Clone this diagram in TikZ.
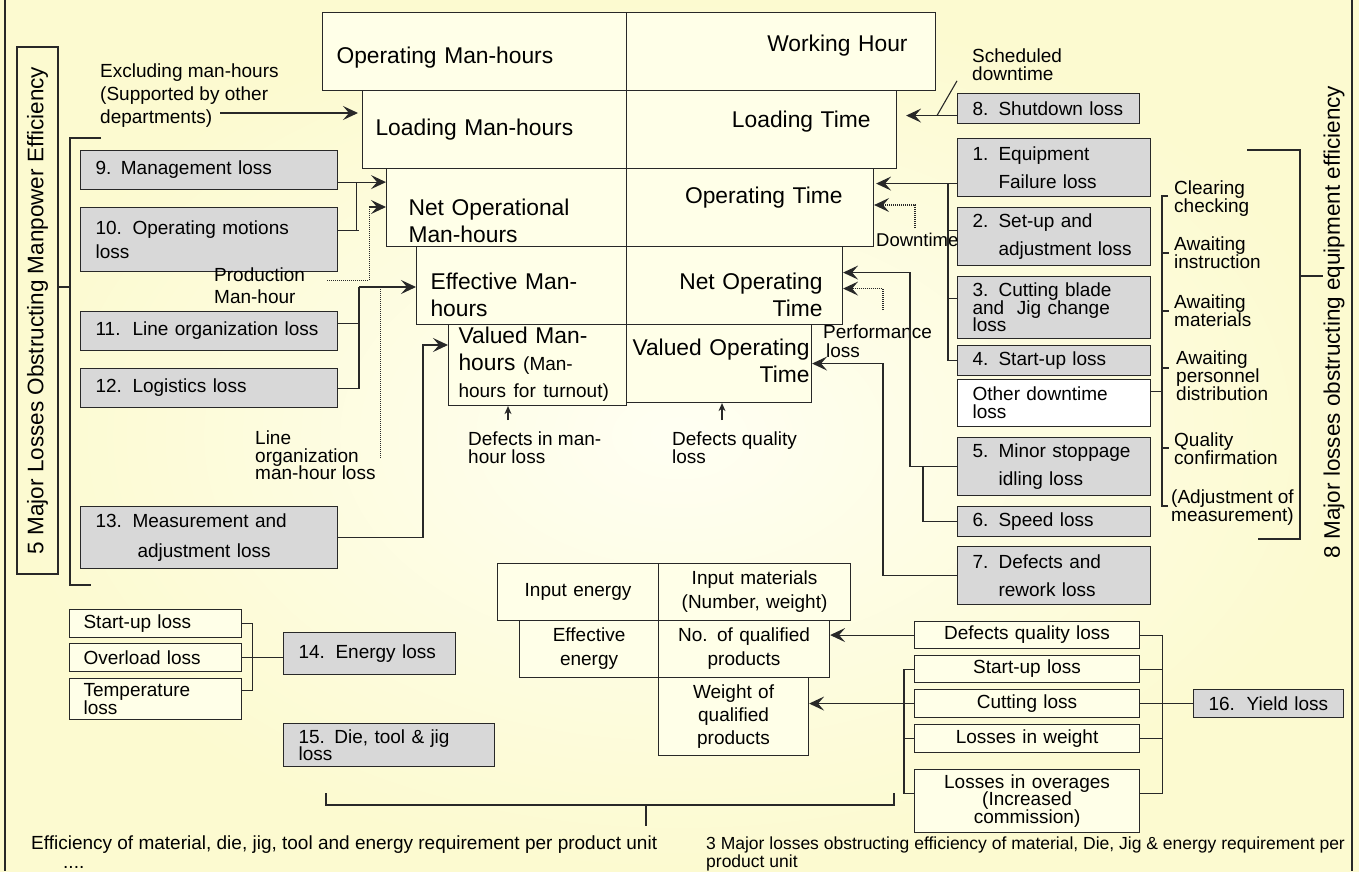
\documentclass[tikz,border=0pt]{standalone}
\usepackage{fontspec}
\setmainfont{Liberation Sans}
\usetikzlibrary{arrows.meta,calc}

\definecolor{bgout}{RGB}{252,250,208}
\definecolor{bgin}{RGB}{255,255,243}
\definecolor{cellyel}{RGB}{255,255,232}
\definecolor{lossgray}{RGB}{216,216,216}
\definecolor{ink}{RGB}{40,40,40}

\newcommand\cellf{\fontsize{22.8}{27}\selectfont}
\newcommand\lfs[1]{\fontsize{19}{#1}\selectfont\lineskiplimit=-40pt\lineskip=0pt\relax}
\newcommand\sidef{\fontsize{22.5}{27}\selectfont}
\newcommand\nudge[2]{\raisebox{#1}[\height][\depth]{#2}}
\newcommand\cellrows[2]{\begin{tabular}{@{}#1@{}}#2\end{tabular}}

\tikzset{
  cell/.style={draw=ink, fill=cellyel, line width=1.1pt, anchor=north west, inner ysep=0pt, font=\cellf},
  loss/.style={draw=ink, fill=lossgray, line width=1.1pt, anchor=north west, inner ysep=0pt, inner xsep=15pt, align=left, font=\lfs{27.5}},
  item/.style={draw=ink, fill=cellyel, line width=1.1pt, anchor=north west, inner ysep=0pt, align=center, font=\lfs{24}},
  lbl/.style={anchor=north west, inner sep=0pt, align=left, font=\lfs{23}},
  wire/.style={draw=ink, line width=1.1pt},
  arr/.style={wire, -{Stealth[length=15pt,width=14pt,inset=6pt]}},
  upar/.style={wire, -{Stealth[length=8pt,width=7pt,inset=2.5pt]}},
  dots/.style={wire, line width=1pt, densely dotted},
}

\begin{document}
\begin{tikzpicture}[x=1pt,y=-1pt]
\useasboundingbox (0,0) rectangle (1359,871);
\shade[inner color=bgin, outer color=bgout] (0,0) rectangle (1359,871);
\draw[wire] (5,0) -- (5,871);
\draw[wire] (1352,0) -- (1352,871);

% man-hours / time table
\node[cell, inner xsep=14pt, text width=276pt, align=left, minimum height=78pt] (omh) at (322,12) {\nudge{-6pt}{Operating Man-hours}};
\node[cell, inner xsep=28pt, text width=253pt, align=right, minimum height=78pt] (wh) at (626,12) {\nudge{6pt}{Working Hour}};
\node[cell, inner xsep=13pt, text width=238pt, align=left, minimum height=78pt] (lmh) at (362,90) {Loading Man-hours};
\node[cell, inner xsep=26pt, text width=218pt, align=right, minimum height=78pt] (lt) at (626,90) {\nudge{8pt}{Loading Time}};
\node[cell, inner xsep=22pt, text width=196pt, align=left, minimum height=78pt] (nom) at (386,168) {\nudge{-16pt}{\cellrows{l}{Net Operational\\Man-hours}}};
\node[cell, inner xsep=31pt, text width=185pt, align=right, minimum height=78pt] (ot) at (626,168) {\nudge{10pt}{Operating Time}};
\node[cell, inner xsep=14pt, text width=182pt, align=left, minimum height=78pt] (emh) at (416,246) {\nudge{-12pt}{\cellrows{l}{Effective Man-\\hours}}};
\node[cell, inner xsep=20pt, text width=176pt, align=right, minimum height=78pt] (not) at (626,246) {\nudge{-12pt}{\cellrows{r}{Net Operating\\Time}}};
\node[cell, inner xsep=10pt, text width=158pt, align=left, minimum height=78pt] (vmh) at (448,324) {\cellrows{l}{Valued Man-\\hours {\lfs{27}(Man-}\\{\lfs{27}hours for turnout)}}};
\node[cell, inner xsep=2pt, text width=181pt, align=right, minimum height=78pt] (vot) at (626,324) {\cellrows{r}{Valued Operating\\Time}};

% manpower losses
\node[draw=ink, line width=1.1pt, rotate=90, minimum width=527pt, minimum height=41pt, inner sep=0pt, font=\sidef] (fivebox) at (37.5,310.5) {5 Major Losses Obstructing Manpower Efficiency};
\node[loss, text width=227pt, minimum height=39pt] (l9) at (80,150) {9. Management loss};
\node[loss, text width=227pt, minimum height=64pt, font=\lfs{24}] (l10) at (80,207) {\makebox[37pt][l]{10.}Operating motions\\loss};
\node[loss, text width=227pt, minimum height=39pt] (l11) at (80,311) {\makebox[37pt][l]{11.}Line organization loss};
\node[loss, text width=227pt, minimum height=39pt] (l12) at (80,368) {\makebox[37pt][l]{12.}Logistics loss};
\node[loss, text width=227pt, minimum height=62pt, font=\lfs{30}] (l13) at (80,506) {\makebox[37pt][l]{13.}Measurement and\\\hspace*{42pt}adjustment loss};

% equipment losses
\node[loss, text width=152pt, minimum height=30pt] (s8) at (957,93) {\makebox[26pt][l]{8.}Shutdown loss};
\node[loss, text width=163pt, minimum height=58pt] (e1) at (957,138) {\makebox[26pt][l]{1.}Equipment\\\hspace*{26pt}Failure loss};
\node[loss, text width=163pt, minimum height=58pt] (e2) at (957,207) {\makebox[26pt][l]{2.}Set-up and\\\hspace*{26pt}adjustment loss};
\node[loss, text width=163pt, minimum height=62pt, font=\lfs{17.5}] (e3) at (957,276) {\makebox[26pt][l]{3.}Cutting blade\\and\ \ Jig change\\loss};
\node[loss, text width=163pt, minimum height=30pt] (e4) at (957,345) {\makebox[26pt][l]{4.}Start-up loss};
\node[loss, fill=white, text width=163pt, minimum height=47pt, font=\lfs{18}] (od) at (957,379) {Other downtime\\loss};
\node[loss, text width=163pt, minimum height=58pt] (e5) at (957,437) {\makebox[26pt][l]{5.}Minor stoppage\\\hspace*{26pt}idling loss};
\node[loss, text width=163pt, minimum height=30pt] (e6) at (957,506) {\makebox[26pt][l]{6.}Speed loss};
\node[loss, text width=163pt, minimum height=58pt] (e7) at (957,546) {\makebox[26pt][l]{7.}Defects and\\\hspace*{26pt}rework loss};
\node[rotate=90, inner sep=0pt, font=\sidef] (eightl) at (1334,322) {8 Major losses obstructing equipment efficiency};

% energy, die and yield losses
\node[item, align=left, inner xsep=14pt, text width=144pt, minimum height=28pt] (su) at (69,609) {Start-up loss};
\node[item, align=left, inner xsep=14pt, text width=144pt, minimum height=28pt] (ol) at (69,643) {Overload loss};
\node[item, align=left, inner xsep=14pt, text width=144pt, minimum height=41pt, font=\lfs{17.5}] (tl) at (69,678) {Temperature\\loss};
\node[loss, text width=142pt, minimum height=42pt] (en14) at (283,632) {\makebox[37pt][l]{14.}Energy loss};
\node[loss, text width=181pt, minimum height=43pt, font=\lfs{17.5}] (die15) at (283,723) {15. Die, tool \& jig\\loss};
\node[item, inner xsep=6pt, text width=149pt, minimum height=57pt] (ie) at (497,563) {Input energy};
\node[item, inner xsep=6pt, text width=180pt, minimum height=57pt] (im) at (658,563) {Input materials\\(Number, weight)};
\node[item, inner xsep=6pt, text width=127pt, minimum height=57pt] (ee) at (519,620) {Effective\\energy};
\node[item, inner xsep=6pt, text width=159pt, minimum height=57pt] (nq) at (658,620) {No. of qualified\\products};
\node[item, inner xsep=6pt, text width=138pt, minimum height=78pt, font=\lfs{23}] (wq) at (658,677) {Weight of\\qualified\\products};
\node[item, inner xsep=10pt, text width=205pt, minimum height=27pt] (dq) at (914,621) {Defects quality loss};
\node[item, inner xsep=10pt, text width=205pt, minimum height=27pt] (su2) at (914,655) {Start-up loss};
\node[item, inner xsep=10pt, text width=205pt, minimum height=28pt] (cl) at (914,689) {Cutting loss};
\node[item, inner xsep=10pt, text width=205pt, minimum height=28pt] (lw) at (914,724) {Losses in weight};
\node[item, inner xsep=10pt, text width=205pt, minimum height=63pt, font=\lfs{17.5}] (lo) at (914,769) {Losses in overages\\(Increased\\commission)};
\node[loss, text width=120pt, minimum height=28pt] (y16) at (1193,689) {\makebox[38pt][l]{16.}Yield loss};

% free texts
\node[lbl] (excl) at (100,64) {Excluding man-hours\\(Supported by other\\departments)};
\node[lbl, font=\lfs{17.5}] (sched) at (972,49) {Scheduled\\downtime};
\node[lbl, font=\lfs{22}] (prod) at (214,268) {Production\\Man-hour};
\node[lbl, font=\lfs{17.5}] (lorg) at (255,431) {Line\\organization\\man-hour loss};
\node[lbl, anchor=west, font=\lfs{23}\fontsize{18.5}{22}\selectfont] (down) at (876,240) {Downtime};
\node[lbl, font=\lfs{19}] (perf) at (823,325) {Performance\\\hspace*{3pt}loss};
\node[lbl, font=\lfs{18}] (dml) at (468,432) {Defects in man-\\hour loss};
\node[lbl, font=\lfs{18}] (dqt) at (672,432) {Defects quality\\loss};
\node[lbl, font=\lfs{17.5}] (clr) at (1174,181) {Clearing\\checking};
\node[lbl, font=\lfs{18}] (ains) at (1174,237) {Awaiting\\instruction};
\node[lbl, font=\lfs{18}] (amat) at (1174,295) {Awaiting\\materials};
\node[lbl, font=\lfs{18}] (aper) at (1176,351) {Awaiting\\personnel\\distribution};
\node[lbl, font=\lfs{18}] (qual) at (1174,433) {Quality\\confirmation};
\node[lbl, font=\lfs{18}] (adj) at (1171,490) {(Adjustment of\\measurement)};
\node[lbl, anchor=west] (effl) at (31,845) {Efficiency of material, die, jig, tool and energy requirement per product unit};
\node[lbl, anchor=west] (more) at (63,867) {....};
\node[lbl, font=\fontsize{17.5}{18}\selectfont] (threel) at (706,837) {3 Major losses obstructing efficiency of material, Die, Jig \& energy requirement per\\product unit};

% left connectors
\coordinate (exa) at (220,113);
\draw[arr, shorten >=4pt] (exa) -- (exa -| lmh.west);
\coordinate (a9) at ([yshift=8pt]l9.south east);
\coordinate (a10) at ([yshift=9pt]l10.east);
\draw[arr] (a9) -- (a9 -| nom.west);
\draw[wire] (a10) -- ++(21,0);
\draw[wire] ([xshift=18pt]a10) -- ([xshift=18pt]a9);
\coordinate (pa) at (327,280);
\coordinate (pb) at (369,207);
\draw[dots] (pa) -| (pb);
\draw[arr] (pb) -- (pb -| nom.west);
\coordinate (a11) at ([yshift=8pt]l11.east);
\coordinate (j11) at (359,287);
\draw[wire] (a11) -- (a11 -| j11);
\draw[wire] (l12.east) -| (j11);
\draw[arr] (j11) -- (j11 -| emh.west);
\coordinate (lo1) at (380,289);
\coordinate (lo2) at (380,458);
\draw[dots] (lo1) -- (lo2);
\coordinate (j13) at (423,345);
\draw[arr] (l13.east) -| (j13) -- (j13 -| vmh.west);
\coordinate (lb1) at (101,138);
\coordinate (lb2) at (91,585);
\coordinate (lb3) at (70,287);
\draw[wire] (lb1) -- ++(-31,0) |- (lb2);
\draw[wire] (lb3) -- (lb3 -| fivebox.south);

% right connectors
\coordinate (a8) at ([yshift=-7pt]s8.west);
\draw[arr, shorten >=9pt] (a8) -- (a8 -| lt.east);
\coordinate (sl1) at ([xshift=-20pt]a8);
\coordinate (sl2) at ([xshift=-15pt]sched.south west);
\draw[wire] (sl1) -- (sl2);
\coordinate (a1) at ([yshift=-16pt]e1.west);
\draw[arr, shorten >=2pt] (a1) -- (a1 -| ot.east);
\coordinate (b1) at ([xshift=-9pt]a1);
\draw[wire] (b1) |- (e4.west);
\draw[wire] ([yshift=6pt]e2.west) -- ++(-9,0);
\draw[wire] ([yshift=9pt]e3.west) -- ++(-9,0);
\coordinate (dt) at (915,228);
\coordinate (dta) at (915,205);
\draw[dots, arr] (dt) -- (dta) -- (dta -| ot.east);
\coordinate (b5) at ([xshift=-47pt]e5.west);
\coordinate (n1) at ([yshift=13pt]not.east);
\draw[arr] (e5.west) -- (b5) |- (n1);
\draw[wire] ([xshift=-34pt]e5.west) |- (e6.west);
\coordinate (pf) at (883,310);
\coordinate (n2) at ([yshift=-3pt]not.east);
\draw[dots, arr] (pf) |- (n2);
\coordinate (b7) at ([xshift=-74pt]e7.west);
\draw[arr] (e7.west) -- (b7) |- (vot.east);
\coordinate (dm) at (508,420);
\draw[upar] (dm) -- (dm |- vmh.south);
\coordinate (dqa) at (722,420);
\draw[upar] (dqa) -- (dqa |- vot.south);
\coordinate (rb1) at (1168,196);
\coordinate (rb2) at (1168,506);
\draw[wire] (rb1) -- ++(-6,0) |- (rb2);
\foreach \ty in {253,311,368,448} \draw[wire] (1162,\ty) -- ++(7,0);
\coordinate (odj) at ([yshift=12pt]od.east);
\draw[wire] (odj) -- ++(12,0);
\coordinate (bb1) at (1247,150);
\coordinate (bb2) at (1258,539);
\coordinate (bb3) at (1300,276);
\draw[wire] (bb1) -- ++(53,0) |- (bb2);
\draw[wire] (bb3) -- (bb3 -| eightl.north);

% bottom connectors
\coordinate (eb) at ([xshift=10pt]ol.east);
\draw[wire] (su.east) -| (eb) |- ([yshift=9pt]tl.east);
\draw[wire] (ol.east) -- (ol.east -| en14.west);
\coordinate (bl) at (326,793);
\coordinate (br) at (894,793);
\coordinate (bm) at (646,805);
\draw[wire] (bl) |- (br |- bm) -- (br);
\draw[wire] (bm) -- ++(0,21);
\draw[arr] (dq.west) -- (dq.west -| nq.east);
\coordinate (cb) at ([xshift=-10pt]cl.west);
\coordinate (ov) at ([yshift=8pt]lo.west);
\draw[wire] (su2.west) -| ([xshift=-10pt]ov) -- (ov);
\draw[wire] (cl.west) -- (cb);
\draw[wire] (lw.west) -- ++(-10,0);
\draw[arr] (cb) -- (cb -| wq.east);
\coordinate (ov2) at ([yshift=8pt]lo.east);
\draw[wire] (dq.east) -| ([xshift=22pt]ov2) -- (ov2);
\draw[wire] (su2.east) -- ++(22,0);
\draw[wire] (lw.east) -- ++(22,0);
\draw[wire] (cl.east) -- (y16.west);
\end{tikzpicture}
\end{document}
